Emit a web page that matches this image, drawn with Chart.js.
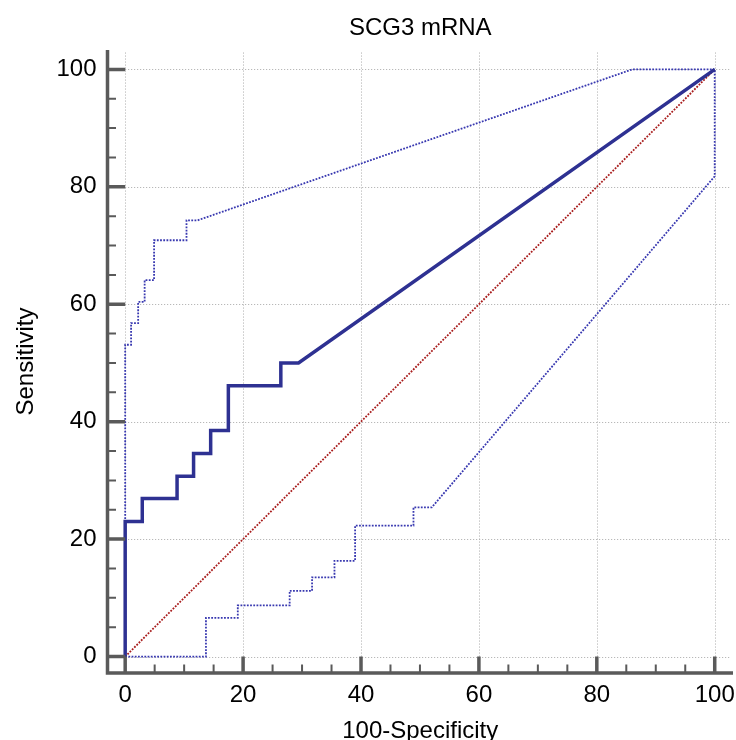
<!DOCTYPE html>
<html>
<head>
<meta charset="utf-8">
<title>SCG3 mRNA</title>
<script src="https://cdn.jsdelivr.net/npm/chart.js@4.4.1/dist/chart.umd.min.js"></script>
<style>
  html, body { margin: 0; padding: 0; background: #fff; }
  #wrap { width: 736px; height: 740px; }
</style>
</head>
<body>
<div id="wrap"><canvas id="roc" width="736" height="740"></canvas></div>
<script>
// ROC curve (x = 100-Specificity, y = Sensitivity)
var rocX = [0, 0, 2.9, 2.9, 8.8, 8.8, 11.6, 11.6, 14.5, 14.5, 17.5, 17.5, 26.4, 26.4, 29.4, 100];
var rocY = [0, 23.0, 23.0, 26.9, 26.9, 30.7, 30.7, 34.6, 34.6, 38.5, 38.5, 46.1, 46.1, 50.0, 50.0, 100];
// upper confidence bound
var upperX = [0, 0, 1.0, 1.0, 2.2, 2.2, 3.3, 3.3, 4.9, 4.9, 10.4, 10.4, 12.3, 86.0, 100];
var upperY = [0, 53.1, 53.1, 56.8, 56.8, 60.4, 60.4, 64.1, 64.1, 70.9, 70.9, 74.3, 74.3, 100, 100];
// lower confidence bound
var lowerX = [0, 13.7, 13.7, 19.1, 19.1, 27.9, 27.9, 31.7, 31.7, 35.5, 35.5, 39.0, 39.0, 48.9, 48.9, 52.0, 100, 100];
var lowerY = [0, 0, 6.6, 6.6, 8.7, 8.7, 11.2, 11.2, 13.5, 13.5, 16.3, 16.3, 22.3, 22.3, 25.4, 25.4, 81.8, 100];
// chance line
var diagX = [0, 100];
var diagY = [0, 100];

var xTicks = [0, 20, 40, 60, 80, 100];
var yTicks = [0, 20, 40, 60, 80, 100];
var minorStep = 5;

var FONT = "'Liberation Sans', Arial, sans-serif";

function pts(xs, ys) {
  return xs.map(function(x, i) { return { x: x, y: ys[i] }; });
}

// dotted grid + offset axes with inward ticks (major and minor)
var frame = {
  id: 'frame',
  beforeDatasetsDraw: function(chart) {
    var ctx = chart.ctx, sx = chart.scales.x, sy = chart.scales.y;
    var gx0 = sx.getPixelForValue(0), gx1 = sx.getPixelForValue(102.5);
    var gy0 = sy.getPixelForValue(0), gy1 = sy.getPixelForValue(103);
    ctx.save();
    ctx.strokeStyle = '#aaaaaa';
    ctx.lineWidth = 1;
    ctx.setLineDash([1, 2]);
    xTicks.forEach(function(v) {
      var px = Math.round(sx.getPixelForValue(v)) + 0.5;
      ctx.beginPath(); ctx.moveTo(px, gy0); ctx.lineTo(px, gy1); ctx.stroke();
    });
    yTicks.forEach(function(v) {
      var py = Math.round(sy.getPixelForValue(v)) + 0.5;
      ctx.beginPath(); ctx.moveTo(gx0, py); ctx.lineTo(gx1, py); ctx.stroke();
    });
    ctx.restore();
  },
  afterDatasetsDraw: function(chart) {
    var ctx = chart.ctx, sx = chart.scales.x, sy = chart.scales.y, a = chart.chartArea;
    var zx = sx.getPixelForValue(0), zy = sy.getPixelForValue(0);
    ctx.save();
    ctx.strokeStyle = '#5a5a5a';
    ctx.setLineDash([]);
    // axis lines
    ctx.lineWidth = 3.5;
    ctx.beginPath();
    ctx.moveTo(a.left, a.top);
    ctx.lineTo(a.left, a.bottom + 1.75);
    ctx.moveTo(a.left - 1.75, a.bottom);
    ctx.lineTo(a.right, a.bottom);
    ctx.stroke();
    // ticks
    for (var v = 0; v <= 100; v += minorStep) {
      var major = v % 20 === 0;
      var px = sx.getPixelForValue(v), py = sy.getPixelForValue(v);
      ctx.lineWidth = major ? 3.5 : 2;
      ctx.beginPath();
      ctx.moveTo(px, a.bottom);
      ctx.lineTo(px, major ? zy : a.bottom - 8.5);
      ctx.moveTo(a.left, py);
      ctx.lineTo(major ? zx : a.left + 8.5, py);
      ctx.stroke();
    }
    ctx.restore();
  }
};

var ctx = document.getElementById('roc').getContext('2d');
var chart = new Chart(ctx, {
  type: 'line',
  data: {
    datasets: [
      {
        label: 'ROC',
        data: pts(rocX, rocY),
        borderColor: '#2e3192',
        borderWidth: 3.5,
        pointRadius: 0,
        fill: false,
        tension: 0
      },
      {
        label: 'Upper',
        data: pts(upperX, upperY),
        borderColor: '#3838b0',
        borderWidth: 1.8,
        borderDash: [1.8, 1.4],
        pointRadius: 0,
        fill: false
      },
      {
        label: 'Lower',
        data: pts(lowerX, lowerY),
        borderColor: '#3838b0',
        borderWidth: 1.8,
        borderDash: [1.8, 1.4],
        pointRadius: 0,
        fill: false
      },
      {
        label: 'Chance',
        data: pts(diagX, diagY),
        borderColor: '#a81c1c',
        borderWidth: 1.8,
        borderDash: [1.8, 1.4],
        pointRadius: 0,
        fill: false
      }
    ]
  },
  options: {
    responsive: false,
    animation: false,
    layout: { padding: { left: 0, right: 3, top: 0, bottom: 0 } },
    plugins: {
      legend: { display: false },
      tooltip: { enabled: false },
      title: {
        display: true,
        text: 'SCG3 mRNA',
        fullSize: false,
        color: '#000',
        font: { family: FONT, size: 24, weight: 'normal' },
        padding: { top: 14, bottom: 7.2 }
      }
    },
    scales: {
      x: {
        type: 'linear',
        min: -3,
        max: 103.1,
        afterBuildTicks: function(s) { s.ticks = xTicks.map(function(v) { return { value: v }; }); },
        afterFit: function(s) { s.height = 67; s.paddingLeft = 0; s.paddingRight = 0; },
        grid: { display: false, drawTicks: false },
        border: { display: false },
        ticks: {
          color: '#000',
          font: { family: FONT, size: 24 },
          padding: 8,
          maxRotation: 0,
          autoSkip: false
        },
        title: {
          display: true,
          text: '100-Specificity',
          color: '#000',
          font: { family: FONT, size: 24, lineHeight: 0.9 },
          padding: { top: 0, bottom: -2 }
        }
      },
      y: {
        type: 'linear',
        min: -2.8,
        max: 103.3,
        afterBuildTicks: function(s) { s.ticks = yTicks.map(function(v) { return { value: v }; }); },
        afterFit: function(s) { s.width = 107.5; s.paddingTop = 0; s.paddingBottom = 0; },
        grid: { display: false, drawTicks: false },
        border: { display: false },
        ticks: {
          color: '#000',
          font: { family: FONT, size: 24 },
          padding: 11,
          autoSkip: false
        },
        title: {
          display: true,
          text: 'Sensitivity',
          color: '#000',
          font: { family: FONT, size: 24, lineHeight: 0.9 },
          padding: { top: 16, bottom: 0 }
        }
      }
    }
  },
  plugins: [frame]
});
</script>
</body>
</html>
